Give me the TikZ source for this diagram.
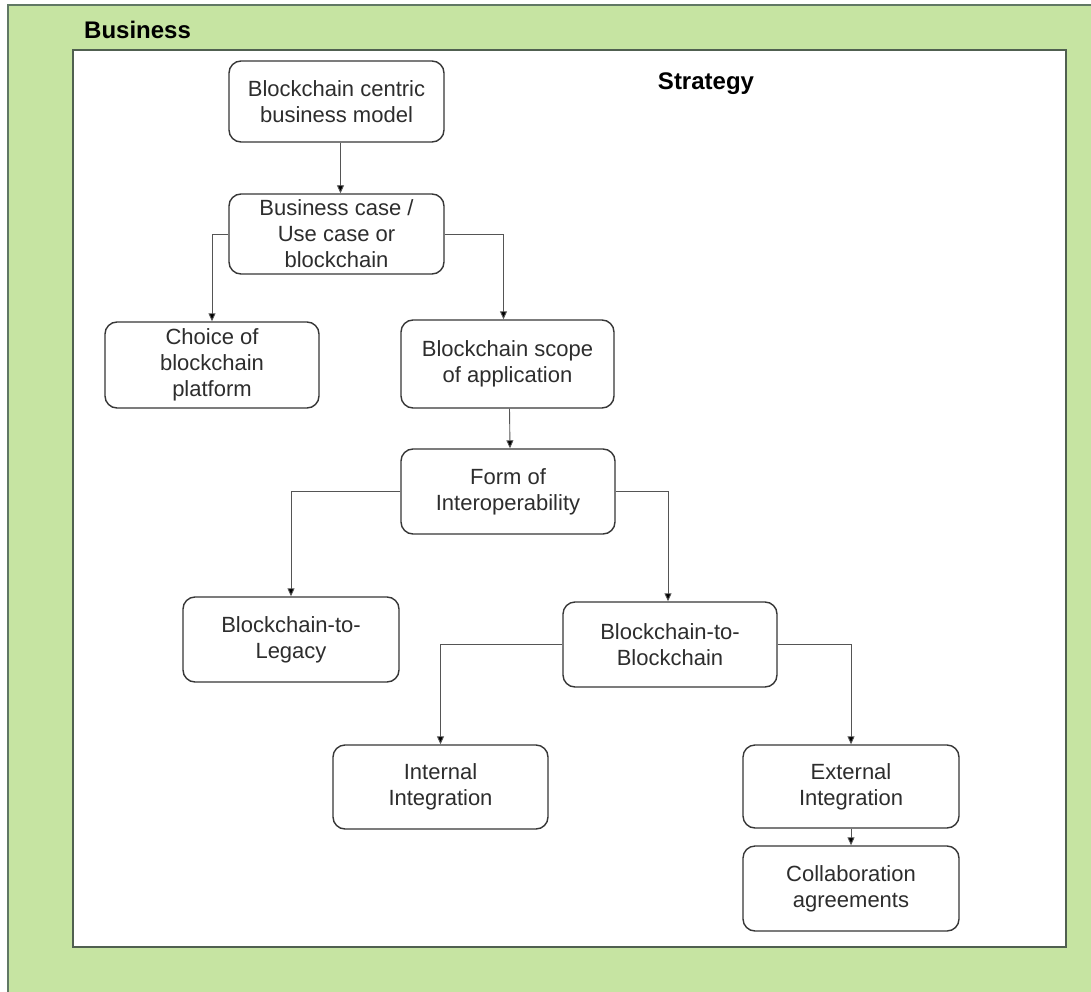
\documentclass[tikz,border=0pt]{standalone}
\usepackage{fontspec}
\setmainfont{Liberation Sans}
\usetikzlibrary{arrows.meta}
\definecolor{bizgreen}{RGB}{198,228,162}
\definecolor{bizedge}{RGB}{96,120,100}
\definecolor{stratedge}{RGB}{80,96,80}
\definecolor{boxedge}{RGB}{55,55,55}
\definecolor{boxtext}{RGB}{45,45,45}
\definecolor{linkgray}{RGB}{85,85,85}
\tikzset{
  box/.style={draw=boxedge, line width=1.4pt, rounded corners=12pt, fill=white,
    minimum width=215pt, minimum height=84pt, inner sep=0pt, align=center,
    text=boxtext, font=\fontsize{22}{26}\selectfont},
  link/.style={draw=linkgray, line width=0.9pt,
    -{Triangle[length=8pt,width=7pt,fill=black]}},
  heading/.style={font=\fontsize{24}{28}\selectfont\bfseries, text=black, inner sep=0pt}
}
\begin{document}
\begin{tikzpicture}[x=1pt,y=-1pt]
  \useasboundingbox (0,0) rectangle (1091,992);
  % outer business layer
  \fill[bizgreen] (8,5) rectangle (1091,992);
  \draw[bizedge, line width=1.5pt] (1091,5) -- (8,5) -- (8,992);
  \node[heading, anchor=west] (business) at (84,30) {Business};
  % strategy panel
  \draw[stratedge, line width=2pt, fill=white] (73,50) rectangle (1066,947);
  \node[heading] (strategy) at (706,84) {Strategy};

  % decision tree
  \node[box, minimum height=81pt] (model) at (336.5,101.5) {Blockchain centric\\business model};
  \node[box, minimum height=80pt] (case) at (336.5,234) {Business case /\\Use case or\\blockchain};
  \node[box, minimum height=86pt, minimum width=214pt] (platform) at (212,365) {Choice of\\blockchain\\platform};
  \node[box, minimum height=88pt, minimum width=213pt] (scope) at (507.5,364) {Blockchain scope\\of application};
  \node[box, minimum height=85pt, minimum width=214pt] (form) at (508,491.5) {Form of\\Interoperability};
  \node[box, minimum height=85pt, minimum width=216pt] (legacy) at (291,639.5) {Blockchain-to-\\Legacy};
  \node[box, minimum height=85pt, minimum width=214pt] (b2b) at (670,644.5) {Blockchain-to-\\Blockchain};
  \node[box, minimum height=84pt] (internal) at (440.5,787) {Internal\\Integration};
  \node[box, minimum height=83pt, minimum width=216pt] (external) at (851,786.5) {External\\Integration};
  \node[box, minimum height=85pt, minimum width=216pt] (collab) at (851,888.5) {Collaboration\\agreements};

  % connectors
  \draw[link] ([xshift=4pt]model.south) -- ([xshift=4pt]case.north);
  \draw[link] (case.west) -| (platform.north);
  \draw[link] (case.east) -| ([xshift=-4pt]scope.north);
  \draw[link] ([xshift=2pt]scope.south) -- ([xshift=2pt]form.north);
  \draw[link] (form.west) -| (legacy.north);
  \draw[link] (form.east) -| ([xshift=-2pt]b2b.north);
  \draw[link] (b2b.west) -| (internal.north);
  \draw[link] (b2b.east) -| (external.north);
  \draw[link] (external.south) -- (collab.north);
\end{tikzpicture}
\end{document}
